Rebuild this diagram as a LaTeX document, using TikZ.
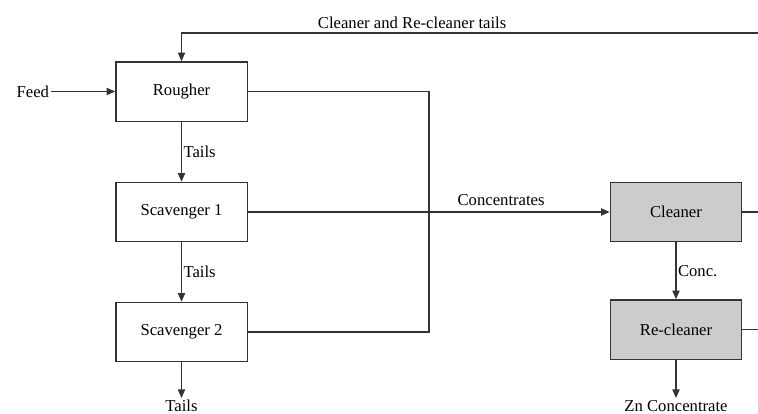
\documentclass[tikz,border=0pt]{standalone}
\usepackage{fontspec}
\setmainfont{Liberation Serif}
\usetikzlibrary{arrows.meta,positioning}

\begin{document}
\begin{tikzpicture}[x=0.75pt,y=-0.75pt,>={Triangle[length=6.5pt,width=5.5pt]},
  line width=1pt, draw=black!80,
  unit/.style={draw=black!80, line width=1pt, minimum width=98.5pt, minimum height=44.5pt, font=\fontsize{12.5}{14}\selectfont},
  grey/.style={unit, fill=black!20},
  lbl/.style={font=\fontsize{12.5}{14}\selectfont, inner sep=1pt}]
\useasboundingbox (0,0) rectangle (758,414);
% flotation stages
\node[unit] (rougher) at (181.5,91.5) {Rougher};
\node[unit] (scav1) at (181.5,212) {Scavenger 1};
\node[unit] (scav2) at (181.5,332) {Scavenger 2};
\node[grey] (cleaner) at (676,212) {Cleaner};
\node[grey] (recleaner) at (676,329.5) {Re-cleaner};
% streams in and out
\node[lbl, anchor=east] (feed) at (51,91.5) {Feed};
\node[lbl, anchor=north] (tails) at (181.5,398) {Tails};
\node[lbl, anchor=north] (zn) at (676,398) {Zn Concentrate};
\coordinate (join1) at (429,91.5);
\coordinate (join2) at (429,332);
\coordinate (top) at (181.5,33);
\coordinate (topright) at (758,33);
\coordinate (cright) at (758,212);
\coordinate (rright) at (758,329.5);
\draw[->] (feed) -- (rougher);
\draw[->] (rougher) -- node[lbl, right] {Tails} (scav1);
\draw[->] (scav1) -- node[lbl, right] {Tails} (scav2);
\draw[->] (scav2) -- (tails.north);
\draw (rougher) -- (join1) -- (join2) -- (scav2);
\draw[->] (scav1) -- (cleaner) node[lbl, pos=0.7, above=3pt] {Concentrates};
\draw[->] (cleaner) -- node[lbl, right] {Conc.} (recleaner);
\draw[->] (recleaner) -- (zn.north);
\draw (cleaner) -- (cright);
\draw (recleaner) -- (rright);
\draw[->] (topright) -- (top) node[lbl, pos=0.6, above=2pt] {Cleaner and Re-cleaner tails} -- (rougher);
\end{tikzpicture}
\end{document}
